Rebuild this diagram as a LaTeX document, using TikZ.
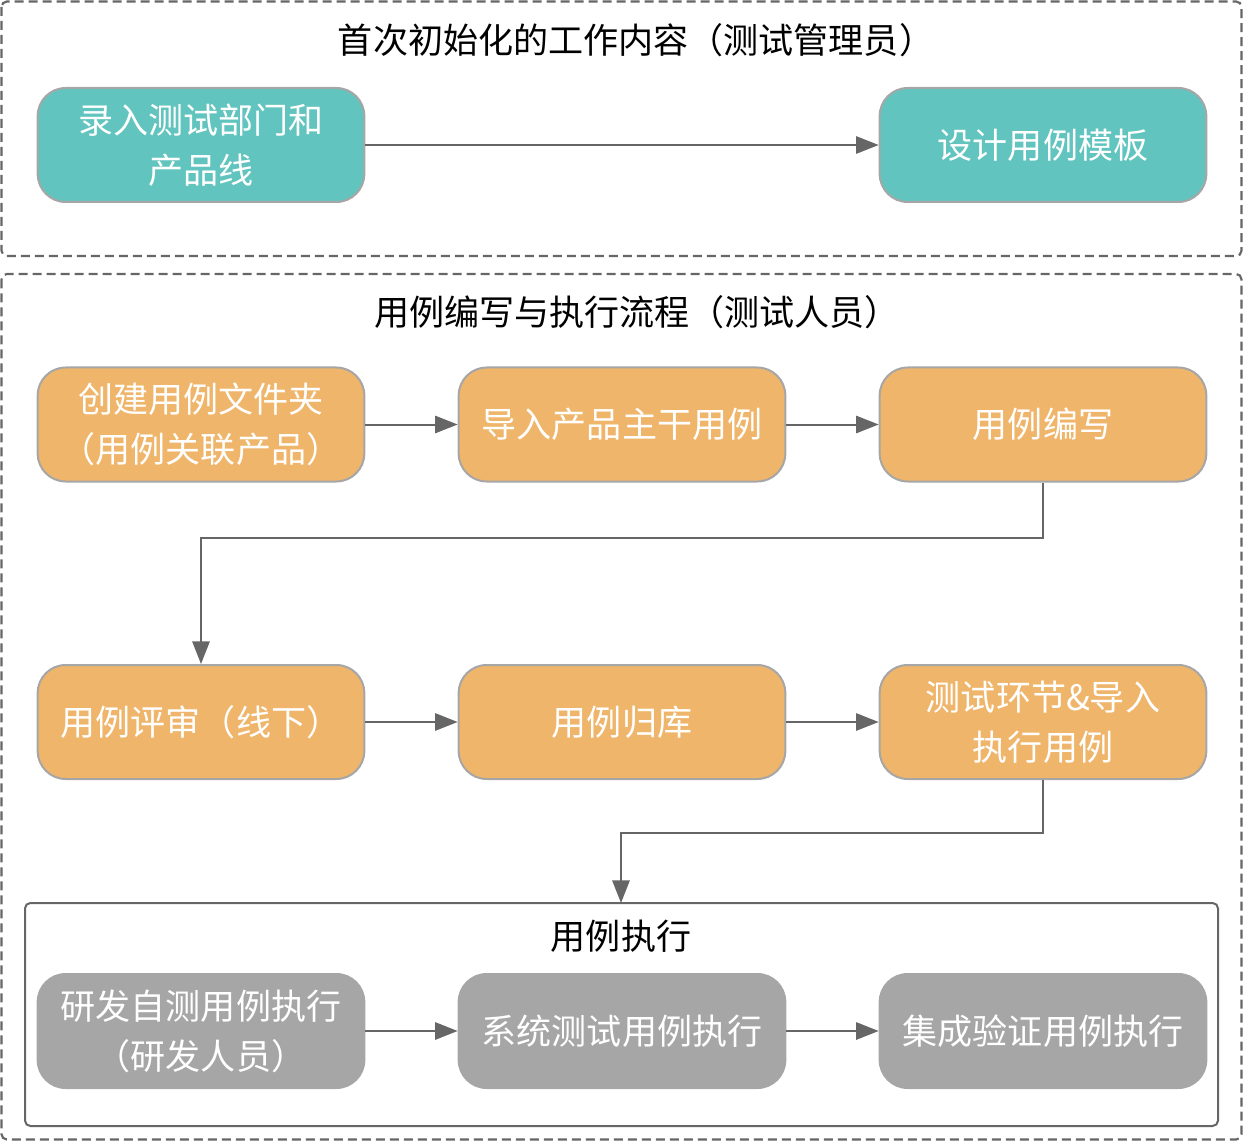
\documentclass[tikz,border=0pt]{standalone}
\usepackage{fontspec}
\setmainfont{Noto Sans CJK SC}
\usetikzlibrary{arrows.meta}
\definecolor{teal}{HTML}{62C4BE}
\definecolor{orangebox}{HTML}{EFB56A}
\definecolor{graybox}{HTML}{A6A6A6}
\definecolor{bordergray}{HTML}{A6A6A6}
\definecolor{linegray}{HTML}{666666}
\tikzset{
  box/.style={rounded corners=21pt, minimum width=245pt, minimum height=85.5pt,
    inner sep=0pt, align=center, text=white, line width=1.5pt,
    font=\fontsize{26.3}{37.5}\selectfont},
  tealbox/.style={box, fill=teal, draw=bordergray},
  orbox/.style={box, fill=orangebox, draw=bordergray},
  grbox/.style={box, fill=graybox, draw=graybox},
  conn/.style={draw=linegray, line width=1.5pt, -{Triangle[length=17pt,width=13pt]}},
  frame/.style={draw=linegray, line width=1.6pt, dash pattern=on 6.75pt off 3.75pt, rounded corners=4pt},
  titletext/.style={font=\fontsize{26.3}{34}\selectfont, text=black, inner sep=0pt},
}
\begin{document}
\begin{tikzpicture}[x=0.75pt,y=-0.75pt]
\useasboundingbox (0,0) rectangle (1243,1141);
% frames
\draw[frame] (1.5,1.5) rectangle (1241.5,256);
\draw[frame] (1.5,274) rectangle (1241.5,1139.5);
\draw[draw=linegray, line width=1.5pt, rounded corners=4pt] (25,903) rectangle (1218,1126);
\node[titletext] (t1) at (636,40) {首次初始化的工作内容（测试管理员）};
\node[titletext] (t2) at (637,312) {用例编写与执行流程（测试人员）};
\node[titletext] (t3) at (621,936) {用例执行};
% nodes
\node[tealbox] (a) at (201,145) {录入测试部门和\\产品线};
\node[tealbox] (b) at (1043,145) {设计用例模板};
\node[orbox] (c) at (201,424.5) {创建用例文件夹\\（用例关联产品）};
\node[orbox] (d) at (622,424.5) {导入产品主干用例};
\node[orbox] (e) at (1043,424.5) {用例编写};
\node[orbox] (f) at (201,722) {用例评审（线下）};
\node[orbox] (g) at (622,722) {用例归库};
\node[orbox] (h) at (1043,722) {测试环节\&导入\\执行用例};
\node[grbox] (i) at (201,1031) {研发自测用例执行\\（研发人员）};
\node[grbox] (j) at (622,1031) {系统测试用例执行};
\node[grbox] (k) at (1043,1031) {集成验证用例执行};
\coordinate (inbox) at (621,903);
% connectors
\draw[conn] (a) -- (b);
\draw[conn] (c) -- (d);
\draw[conn] (d) -- (e);
\draw[conn] (e.south) -- (1043,538) -- (201,538) -- (f.north);
\draw[conn] (f) -- (g);
\draw[conn] (g) -- (h);
\draw[conn] (h.south) -- (1043,833) -- (621,833) -- (inbox);
\draw[conn] (i) -- (j);
\draw[conn] (j) -- (k);
\end{tikzpicture}
\end{document}
